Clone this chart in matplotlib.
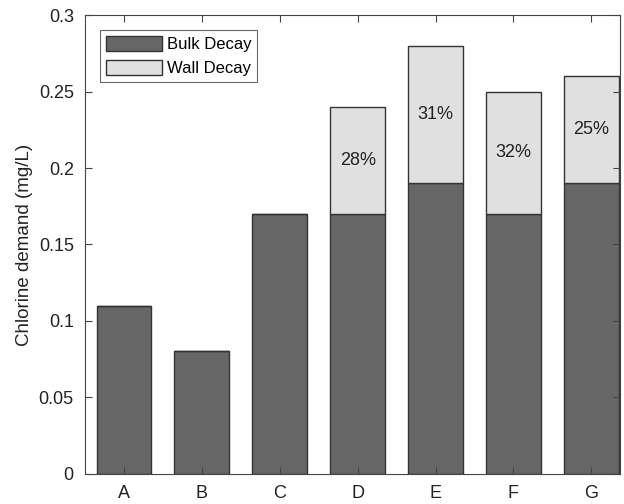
import matplotlib
matplotlib.use('Agg')
import matplotlib.pyplot as plt
import numpy as np

plt.rcParams['font.family'] = ['Liberation Sans', 'DejaVu Sans']

categories = ['A', 'B', 'C', 'D', 'E', 'F', 'G']
bulk = [0.11, 0.08, 0.17, 0.17, 0.19, 0.17, 0.19]
wall = [0, 0, 0, 0.07, 0.09, 0.08, 0.07]
wall_pct = ['', '', '', '28%', '31%', '32%', '25%']

x = np.arange(len(categories))

fig = plt.figure(figsize=(6.24, 5.04), dpi=100)
ax = fig.add_axes([0.136, 0.06, 0.858, 0.91])

ax.bar(x, bulk, width=0.7, color='#666666', edgecolor='#333333', linewidth=1, label='Bulk Decay')
ax.bar(x, wall, width=0.7, bottom=bulk, color='#e0e0e0', edgecolor='#333333', linewidth=1, label='Wall Decay')

for xi, b, w, t in zip(x, bulk, wall, wall_pct):
    if t:
        ax.text(xi, b + w / 2, t, ha='center', va='center', fontsize=13, color='#222222')

ax.set_xlim(-0.5, 6.37)
ax.set_ylim(0, 0.3)
ax.set_xticks(x)
ax.set_xticklabels(categories)
ax.set_yticks(np.arange(0, 0.31, 0.05))
ax.set_yticklabels(['0', '0.05', '0.1', '0.15', '0.2', '0.25', '0.3'])
ax.tick_params(direction='in', top=True, right=True, labelsize=13, length=5, color='#444444',
               labelcolor='#222222')
ax.tick_params(axis='y', pad=8)
ax.tick_params(axis='x', pad=8)
for s in ax.spines.values():
    s.set_color('#444444')
ax.set_ylabel('Chlorine demand (mg/L)', fontsize=13.5, color='#222222', labelpad=4)

leg = ax.legend(loc='upper left', fontsize=12, fancybox=False, edgecolor='#444444',
                handlelength=3.4, handleheight=1.05, borderaxespad=0.9, labelspacing=0.45,
                handletextpad=0.25, borderpad=0.35)
leg.get_frame().set_linewidth(0.8)

plt.savefig('out.png', dpi=100)
